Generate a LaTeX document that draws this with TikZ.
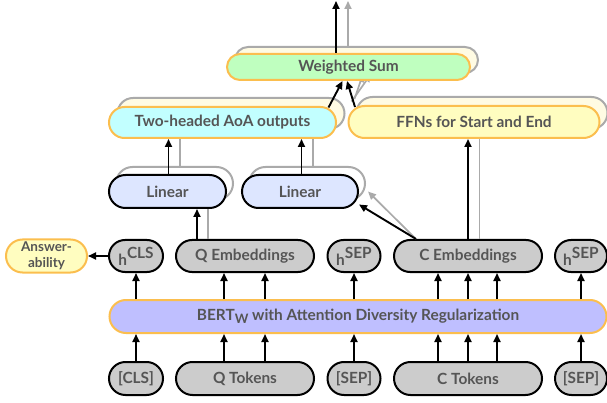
\documentclass[tikz,border=0pt]{standalone}
\usepackage{fontspec}
\setmainfont{Lato}
\usetikzlibrary{shapes.misc,arrows.meta}
\definecolor{txt}{HTML}{555555}
\definecolor{orng}{HTML}{FBBE4E}
\definecolor{shd}{HTML}{AAAAAA}
\definecolor{cream}{HTML}{FFFBE3}
\definecolor{wsfill}{HTML}{BFFFBF}
\definecolor{aoafill}{HTML}{C2FFFF}
\definecolor{ffnfill}{HTML}{FFFDC0}
\definecolor{linfill}{HTML}{DDE6FF}
\definecolor{grayfill}{HTML}{CCCCCC}
\definecolor{bertfill}{HTML}{BFBFFF}
\newcommand{\hsup}[1]{h\raisebox{7pt}{#1}}
\begin{document}
\begin{tikzpicture}[x=1pt,y=-1pt,
  box/.style={rounded rectangle, draw, line width=2pt, inner sep=0pt,
    font=\bfseries\fontsize{15.4}{17}\selectfont, text=txt},
  obox/.style={box, draw=orng},
  kbox/.style={box, draw=black},
  shbox/.style={rounded rectangle, draw=shd, line width=2pt, inner sep=0pt},
  arr/.style={line width=1.9pt, -{Triangle[length=8pt,width=7pt]}},
  garr/.style={line width=1.7pt, draw=shd, -{Triangle[length=8pt,width=7pt]}},
  gline/.style={line width=1.7pt, draw=shd}]
\useasboundingbox (0,0) rectangle (607,403);

% shadows
\node[shbox, fill=cream, minimum width=243pt, minimum height=26pt] (wss) at (356.5,60) {};
\node[shbox, fill=cream, minimum width=227pt, minimum height=31pt] (aoas) at (231,113.5) {};
\node[shbox, fill=cream, minimum width=251pt, minimum height=32pt] (ffns) at (482,113) {};
\node[shbox, fill=white, minimum width=117pt, minimum height=33pt] (lin1s) at (174.5,183.5) {};
\node[shbox, fill=white, minimum width=116pt, minimum height=33pt] (lin2s) at (307,183.5) {};

\coordinate (top1) at (336,1);
\coordinate (top2) at (348,1);

% gray connectors (behind the boxes)
\draw[garr] ([xshift=-8.5pt]wss.north) -- (top2);
\draw[garr] ([shift={(6pt,12pt)}]aoas.east) -- ([xshift=14.5pt]wss.south);
\draw[garr] ([shift={(-1pt,14pt)}]ffns.west) -- ([xshift=6.5pt]wss.south);
\draw[gline] ([xshift=5.5pt]lin1s.north) -- ([xshift=5.5pt]lin1s.north |- aoas.south);
\draw[gline] ([xshift=6pt]lin2s.north) -- ([xshift=6pt]lin2s.north |- aoas.south);

% main boxes
\node[obox, fill=wsfill, minimum width=243pt, minimum height=26pt] (ws) at (348.5,67) {Weighted Sum};
\node[obox, fill=aoafill, minimum width=227pt, minimum height=31pt] (aoa) at (222.5,122.5) {Two-headed AoA outputs};
\node[obox, fill=ffnfill, minimum width=251pt, minimum height=32pt] (ffn) at (474,122) {FFNs for Start and End};
\node[kbox, fill=linfill, minimum width=117pt, minimum height=33pt] (lin1) at (167.5,191.5) {Linear};
\node[kbox, fill=linfill, minimum width=116pt, minimum height=33pt] (lin2) at (300,191.5) {Linear};

\node[obox, fill=ffnfill, minimum width=81pt, minimum height=33pt, align=center,
  font=\bfseries\fontsize{13.5}{16}\selectfont] (ans) at (46.5,256) {Answer-\\ability};
\node[kbox, fill=grayfill, minimum width=54pt, minimum height=32pt] (hcls) at (136,256) {\hsup{CLS}};
\node[kbox, fill=grayfill, minimum width=138pt, minimum height=32pt] (qemb) at (245,256) {Q Embeddings};
\node[kbox, fill=grayfill, minimum width=53pt, minimum height=32pt] (hsep1) at (354,256) {\hsup{SEP}};
\node[kbox, fill=grayfill, minimum width=148pt, minimum height=32pt] (cemb) at (468,256) {C Embeddings};
\node[kbox, fill=grayfill, minimum width=52pt, minimum height=32pt] (hsep2) at (581,256) {\hsup{SEP}};

\node[obox, fill=bertfill, minimum width=497pt, minimum height=33pt] (bert) at (358,316.5)
  {BERT\raisebox{-3pt}{\fontsize{13}{13}\selectfont W} with Attention Diversity Regularization};

\node[kbox, fill=grayfill, minimum width=54pt, minimum height=33pt] (cls) at (136,378.5) {[CLS]};
\node[kbox, fill=grayfill, minimum width=138pt, minimum height=33pt] (qtok) at (245,378.5) {Q Tokens};
\node[kbox, fill=grayfill, minimum width=53pt, minimum height=33pt] (sep1) at (354,378.5) {[SEP]};
\node[kbox, fill=grayfill, minimum width=148pt, minimum height=33pt] (ctok) at (468,378.5) {C Tokens};
\node[kbox, fill=grayfill, minimum width=52pt, minimum height=33pt] (sep2) at (581,378.5) {[SEP]};

% gray lines that must be above embeddings but below linear boxes
\draw[gline] ([xshift=-37pt]qemb.north) -- ([xshift=-37pt]qemb.north |- lin1.south);
\draw[gline] ([xshift=11.5pt]cemb.north) -- ([xshift=11.5pt]cemb.north |- ffn.south);
\draw[garr] ([xshift=-52pt]cemb.north) -- ([shift={(2pt,-8pt)}]lin2s.east);

% black connectors
\draw[arr] ([xshift=-12.5pt]ws.north) -- (top1);
\draw[arr] ([shift={(-8.5pt,15pt)}]aoa.east) -- ([xshift=-6pt]ws.south);
\draw[arr] ([shift={(7.5pt,15pt)}]ffn.west) -- ([xshift=-1.5pt]ws.south);
\draw[arr] ([xshift=1pt]lin1.north) -- ([xshift=1pt]lin1.north |- aoa.south);
\draw[arr] ([xshift=1.5pt]lin2.north) -- ([xshift=1.5pt]lin2.north |- aoa.south);
\draw[arr] ([xshift=-48pt]qemb.north) -- ([xshift=-48pt]qemb.north |- lin1.south);
\draw[arr] ([xshift=-52pt]cemb.north) -- ([shift={(0pt,-13pt)}]lin2.east);
\draw[arr] (cemb.north) -- (cemb.north |- ffn.south);
\draw[arr] (hcls.west) -- (ans.east);

\foreach \n/\d in {cls/0, qtok/-21, qtok/20, sep1/0, ctok/-30, ctok/0, ctok/29, sep2/0}{
  \draw[arr] ([xshift=\d pt]\n.north) -- ([xshift=\d pt]\n.north |- bert.south);
}
\foreach \n/\m/\d in {cls/hcls/0, qtok/qemb/-21, qtok/qemb/20, sep1/hsep1/0, ctok/cemb/-30, ctok/cemb/0, ctok/cemb/29, sep2/hsep2/0}{
  \draw[arr] ([xshift=\d pt]\n.north |- bert.north) -- ([xshift=\d pt]\m.south);
}
\end{tikzpicture}
\end{document}
